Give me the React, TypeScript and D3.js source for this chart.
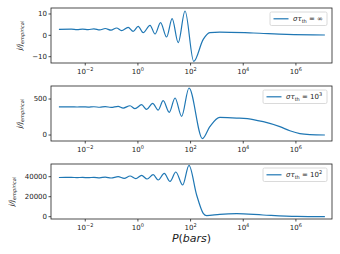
import React, { useRef, useEffect } from 'react';
import * as d3 from 'd3';

// log10 of pressure (bars) and j/j_empirical
const topLogP = [-3, -2.53, -2.31, -2.1, -1.89, -1.67, -1.45, -1.24, -1.02, -0.81, -0.62, -0.37, -0.18, 0.01, 0.2, 0.46, 0.65, 0.86, 1.09, 1.3, 1.53, 1.79, 2.12, 2.48, 2.73, 3.11, 4.38, 5.65, 7.1];
const topRatio = [2.8, 2.9, 2.7, 2.95, 2.65, 3.05, 2.55, 3.2, 2.4, 3.44, 2.19, 3.75, 1.88, 4.23, 1.25, 4.69, 0.63, 5.95, -0.78, 7.82, -3.44, 11.4, -12.2, -1.9, 1.25, 1.55, 1.1, 0.47, 0.15];

const midLogP = [-3, -2.53, -2.31, -2.1, -1.89, -1.67, -1.45, -1.24, -1.02, -0.75, -0.56, -0.3, -0.11, 0.14, 0.33, 0.56, 0.77, 0.96, 1.19, 1.41, 1.66, 1.94, 2.45, 2.73, 3.11, 3.75, 4.38, 4.76, 5.39, 5.77, 6.15, 6.53, 7.1];
const midRatio = [390, 391, 389, 392, 388, 393, 386, 395, 383, 398, 375, 407, 366, 421, 356, 440, 347, 477, 315, 514, 259, 653, -50, 116, 245, 236, 215, 185, 116, 60, 19, 5, 0];

const botLogP = [-3, -2.53, -2.31, -2.1, -1.89, -1.67, -1.45, -1.24, -1.02, -0.75, -0.52, -0.3, -0.08, 0.14, 0.35, 0.58, 0.77, 1.0, 1.22, 1.44, 1.7, 1.94, 2.23, 2.48, 2.61, 3.11, 3.75, 4.75, 6.03, 7.1];
const botRatio = [39200, 39250, 39100, 39300, 39000, 39400, 38900, 39600, 38700, 40000, 38300, 40700, 38000, 41300, 37700, 42000, 36700, 43300, 35300, 44700, 31700, 51300, 21700, 3400, 1000, 2400, 3000, 1700, 300, 0];

const xTickExp = [-2, 0, 2, 4, 6];
const topTicks = [-10, 0, 10];
const midTicks = [0, 500];
const botTicks = [0, 20000, 40000];
const legendBase = ['∞', '10', '10'];
const legendSup = ['', '3', '2'];

const W = 340;
const H = 254;
const left = 51;
const right = 332;
const panelTops = [8, 86, 164];
const panelH = 55;
const blue = '#1f77b4';
const font = 'DejaVu Sans, sans-serif';

const panels = [
  { logP: topLogP, vals: topRatio, ticks: topTicks, domain: [-12.95, 12.8], labelX: 22, legendW: 57 },
  { logP: midLogP, vals: midRatio, ticks: midTicks, domain: [-83, 681], labelX: 22, legendW: 64 },
  { logP: botLogP, vals: botRatio, ticks: botTicks, domain: [-2300, 52700], labelX: 14, legendW: 64 },
];

const fmt = (v: number) => (v < 0 ? '−' + Math.abs(v) : String(v));

const App: React.FC = () => {
  const svgRef = useRef<SVGSVGElement>(null);

  useEffect(() => {
    if (!svgRef.current) return;
    const svg = d3.select(svgRef.current);
    svg.selectAll('*').remove();

    const x = d3.scaleLog().domain([10 ** -3.3, 10 ** 7.37]).range([left, right]);

    panels.forEach((p, i) => {
      const top = panelTops[i];
      const bottom = top + panelH;
      const y = d3.scaleLinear().domain(p.domain).range([bottom, top]);
      const g = svg.append('g');

      const pts = p.logP.map((e, k) => [10 ** e, p.vals[k]] as [number, number]);
      const line = d3.line<[number, number]>()
        .x(d => x(d[0]))
        .y(d => y(d[1]))
        .curve(d3.curveMonotoneX);

      g.append('path')
        .attr('d', line(pts))
        .attr('fill', 'none')
        .attr('stroke', blue)
        .attr('stroke-width', 1.2);

      // frame
      g.append('rect')
        .attr('x', left).attr('y', top)
        .attr('width', right - left).attr('height', panelH)
        .attr('fill', 'none').attr('stroke', '#222').attr('stroke-width', 0.8);

      // y ticks
      p.ticks.forEach(t => {
        const yy = y(t);
        g.append('line').attr('x1', left - 2.5).attr('x2', left).attr('y1', yy).attr('y2', yy)
          .attr('stroke', '#222').attr('stroke-width', 0.8);
        g.append('text').attr('x', left - 4).attr('y', yy).attr('dy', '0.35em')
          .attr('text-anchor', 'end').attr('font-size', 7).attr('font-family', font)
          .attr('fill', '#222').text(fmt(t));
      });

      // x ticks
      xTickExp.forEach(e => {
        const xx = x(10 ** e);
        g.append('line').attr('x1', xx).attr('x2', xx).attr('y1', bottom).attr('y2', bottom + 2.5)
          .attr('stroke', '#222').attr('stroke-width', 0.8);
        const t = g.append('text').attr('x', xx).attr('y', bottom + 11)
          .attr('text-anchor', 'middle').attr('font-size', 7).attr('font-family', font).attr('fill', '#222');
        t.append('tspan').text('10');
        t.append('tspan').attr('dy', -3.2).attr('font-size', 5).text(fmt(e));
      });

      // y label
      const cy = top + panelH / 2;
      const yl = g.append('text')
        .attr('transform', `translate(${p.labelX},${cy}) rotate(-90)`)
        .attr('text-anchor', 'middle').attr('font-family', font).attr('fill', '#222');
      yl.append('tspan').attr('font-size', 7).attr('font-style', 'italic').text('j/j');
      yl.append('tspan').attr('font-size', 5).attr('font-style', 'italic').attr('dy', 1.5).text('empirical');

      // legend
      const lw = p.legendW;
      const lx = right - 5 - lw;
      const ly = top + 4;
      g.append('rect').attr('x', lx).attr('y', ly).attr('width', lw).attr('height', 13.5)
        .attr('rx', 1.5).attr('fill', 'white').attr('fill-opacity', 0.8)
        .attr('stroke', '#d0d0d0').attr('stroke-width', 0.8);
      g.append('line').attr('x1', lx + 3.5).attr('x2', lx + 18.5).attr('y1', ly + 6.8).attr('y2', ly + 6.8)
        .attr('stroke', blue).attr('stroke-width', 1.2);
      const lt = g.append('text').attr('x', lx + 23).attr('y', ly + 9)
        .attr('font-size', 7).attr('font-family', font).attr('fill', '#222');
      lt.append('tspan').attr('font-style', 'italic').text('στ');
      lt.append('tspan').attr('font-size', 5).attr('dy', 1.5).text('th');
      lt.append('tspan').attr('dy', -1.5).text(' = ' + legendBase[i]);
      if (legendSup[i]) lt.append('tspan').attr('font-size', 5).attr('dy', -3).text(legendSup[i]);
    });

    // x label
    const xl = svg.append('text').attr('x', (left + right) / 2).attr('y', 242)
      .attr('text-anchor', 'middle').attr('font-size', 11).attr('font-family', font).attr('fill', '#222');
    xl.append('tspan').attr('font-style', 'italic').text('P');
    xl.append('tspan').text('(');
    xl.append('tspan').attr('font-style', 'italic').text('bars');
    xl.append('tspan').text(')');
  }, []);

  return (
    <div style={{ position: 'fixed', left: 0, top: 0, width: W, height: H, background: 'white' }}>
      <svg ref={svgRef} width={W} height={H} />
    </div>
  );
};

export default App;
